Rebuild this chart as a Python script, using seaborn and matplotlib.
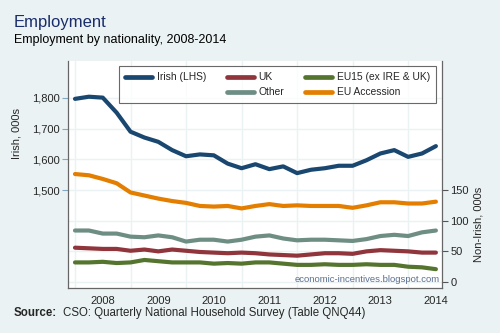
import numpy as np
import pandas as pd
import matplotlib
matplotlib.use("Agg")
import matplotlib.pyplot as plt
from matplotlib.lines import Line2D
from matplotlib.ticker import FixedLocator, FuncFormatter
import seaborn as sns

quarters = pd.period_range("2008Q1", "2014Q3", freq="Q")
irish = [1797, 1804, 1801, 1752, 1690, 1671, 1657, 1630, 1610, 1616, 1613, 1586, 1571,
         1584, 1568, 1577, 1555, 1566, 1571, 1579, 1579, 1597, 1619, 1630, 1608, 1619, 1643]
uk = [56, 55, 54, 54, 51, 53, 50, 53, 51, 49, 48, 47, 48, 47, 45, 44, 43, 45, 47, 47,
      46, 50, 52, 51, 50, 48, 48]
eu15 = [32, 32, 33, 31, 32, 36, 34, 32, 32, 32, 30, 31, 30, 32, 32, 30, 28, 28, 29, 28,
        28, 29, 28, 28, 25, 24, 21]
other = [84, 84, 79, 79, 74, 73, 76, 73, 66, 69, 69, 66, 69, 74, 76, 71, 68, 69, 69, 68,
         67, 70, 75, 77, 75, 81, 84]
eu_acc = [176, 174, 168, 161, 146, 141, 136, 132, 129, 124, 123, 124, 120, 124, 127, 124,
          125, 124, 124, 124, 121, 125, 130, 130, 128, 128, 131]
years = [2008, 2009, 2010, 2011, 2012, 2013, 2014]
left_ticks = [1500, 1600, 1700, 1800]
right_ticks = [0, 50, 100, 150]

x = np.array([p.year + (p.quarter - 1) / 4 for p in quarters])
df_irish = pd.DataFrame({"t": x, "v": irish})
df_non = pd.DataFrame({"t": np.tile(x, 4),
                       "v": uk + eu15 + other + eu_acc,
                       "series": ["UK"] * len(x) + ["EU15 (ex IRE & UK)"] * len(x)
                       + ["Other"] * len(x) + ["EU Accession"] * len(x)})

BG = "#EAF2F3"
colors = {"Irish (LHS)": "#1A476F", "UK": "#90353B", "EU15 (ex IRE & UK)": "#55752F",
          "Other": "#6E8E84", "EU Accession": "#E37E00"}

sns.set_style("white")
plt.rcParams["font.family"] = ["Liberation Sans", "DejaVu Sans"]

fig = plt.figure(figsize=(5.0, 3.33), dpi=100, facecolor=BG)
ax = fig.add_axes([0.136, 0.135, 0.748, 0.682])
ax.set_facecolor("white")
ax2 = ax.twinx()

LW = 3.0
sns.lineplot(data=df_irish, x="t", y="v", ax=ax, color=colors["Irish (LHS)"], lw=LW,
             legend=False, solid_capstyle="round")
sns.lineplot(data=df_non, x="t", y="v", hue="series", palette=colors, ax=ax2, lw=LW,
             legend=False, solid_capstyle="round")

lo, hi = 1180.5, 1920.6
ax.set_ylim(lo, hi)
ax2.set_ylim((lo - 1200) / 2, (hi - 1200) / 2)
ax.set_xlim(2007.874, 2014.61)

# gridlines
for yv in [1200, 1300, 1400, 1500, 1600, 1700, 1800]:
    ax.axhline(yv, color=BG, lw=1.0, zorder=0)
for yr in years:
    ax.axvline(yr, color=BG, lw=1.0, zorder=0)

ax.set_yticks(left_ticks)
ax.yaxis.set_major_formatter(FuncFormatter(lambda v, p: f"{int(v):,}"))
ax2.set_yticks(right_ticks)
ax.set_xticks([y + 0.5 for y in years])
ax.set_xticklabels([str(y) for y in years])
ax.xaxis.set_minor_locator(FixedLocator(x))

for a in (ax, ax2):
    a.tick_params(axis="both", which="both", labelsize=8, color="#8A9AA8", length=4,
                  width=0.8, direction="out", pad=2)
    a.spines["top"].set_visible(False)
    for s in ("left", "right", "bottom"):
        a.spines[s].set_color("#666666")
        a.spines[s].set_linewidth(0.9)
ax.tick_params(axis="x", which="minor", length=4, color="#666666")
ax.tick_params(axis="x", which="major", length=4, color="#666666")
ax.tick_params(axis="y", color="#7FA8C9")
ax2.tick_params(axis="y", color="#555555")
ax.spines["right"].set_visible(False)
ax2.spines["left"].set_visible(False)
ax2.spines["bottom"].set_visible(False)

ax.set_xlabel("")
ax.set_ylabel("Irish, 000s", fontsize=8)
ax.yaxis.set_label_coords(-0.125, 0.68)
ax2.set_ylabel("Non-Irish, 000s", fontsize=8)
ax2.yaxis.set_label_coords(1.085, 0.28)

# legend
order = ["Irish (LHS)", None, "UK", "Other", "EU15 (ex IRE & UK)", "EU Accession"]
handles, labels = [], []
for name in order:
    if name is None:
        handles.append(Line2D([], [], alpha=0))
        labels.append("")
    else:
        handles.append(Line2D([], [], color=colors[name], lw=3.4, solid_capstyle="round"))
        labels.append(name)
leg = ax2.legend(handles, labels, ncol=3, loc="upper left", bbox_to_anchor=(0.136, 0.978),
                 fontsize=7.4, frameon=True, fancybox=False, handlelength=2.6,
                 handletextpad=0.5, columnspacing=2.0, borderpad=0.6, labelspacing=0.5,
                 borderaxespad=0)
leg.get_frame().set_edgecolor("#444444")
leg.get_frame().set_linewidth(0.8)

ax2.text(0.995, 0.02, "economic-incentives.blogspot.com", transform=ax2.transAxes,
         ha="right", va="bottom", fontsize=6.8, color="#5A6F8F")

fig.text(0.028, 0.932, "Employment", fontsize=12, color="#1A2D6B", va="center", ha="left")
fig.text(0.028, 0.88, "Employment by nationality, 2008-2014", fontsize=9, color="black",
         va="center", ha="left")
fig.text(0.028, 0.06, "Source:", fontsize=8.3, fontweight="bold", va="center", ha="left")
fig.text(0.126, 0.06, "CSO: Quarterly National Household Survey (Table QNQ44)", fontsize=8.3,
         va="center", ha="left")

fig.savefig("out.png", dpi=100, facecolor=BG)
